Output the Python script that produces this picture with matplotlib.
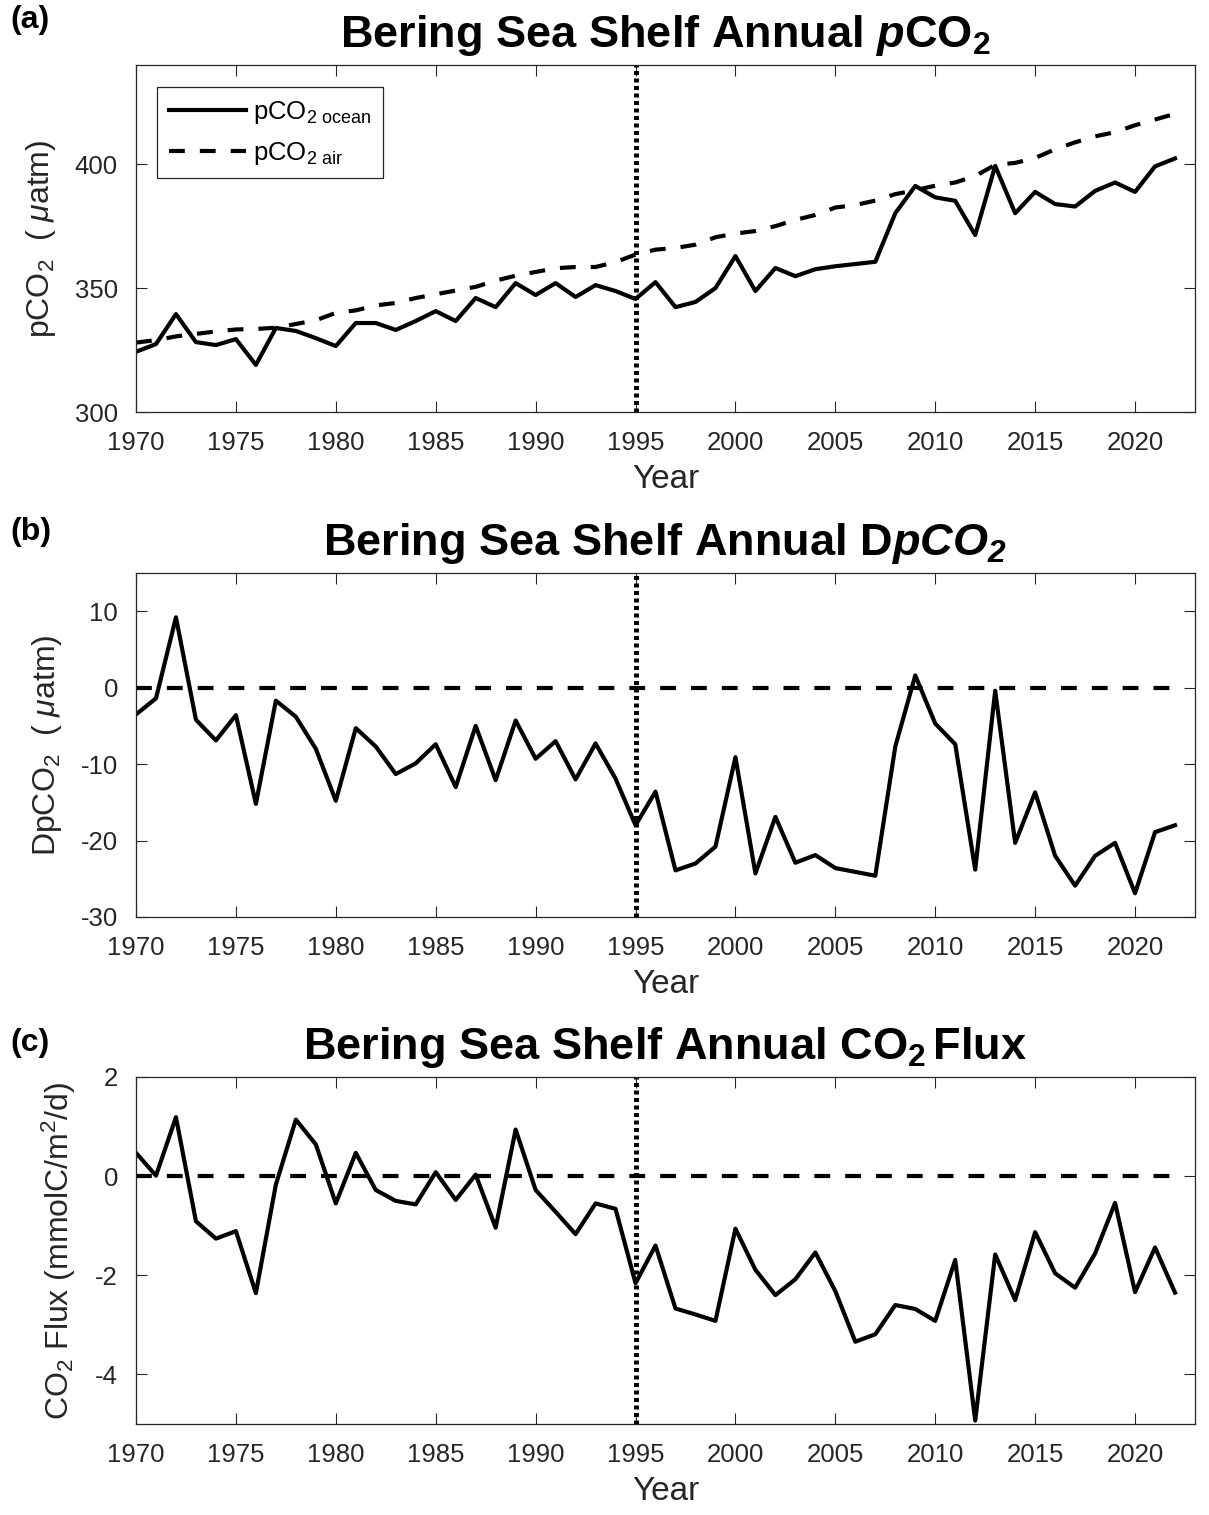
import numpy as np
import matplotlib.pyplot as plt

plt.rcParams['font.family'] = ['Liberation Sans', 'DejaVu Sans']
plt.rcParams['mathtext.fontset'] = 'custom'
plt.rcParams['mathtext.rm'] = 'Liberation Sans'
plt.rcParams['mathtext.it'] = 'Liberation Sans:italic'
plt.rcParams['mathtext.bf'] = 'Liberation Sans:bold'
plt.rcParams['mathtext.bfit'] = 'Liberation Sans:italic:bold'
plt.rcParams['axes.unicode_minus'] = False

years = np.arange(1970, 2023)

# ocean pCO2 (uatm)
pco2_ocean = [324.3, 327.4, 339.5, 328.2, 327.0, 329.4, 319.0, 333.9, 332.7, 329.8,
              326.6, 335.9, 335.9, 333.1, 336.7, 340.7, 336.7, 346.0, 342.3, 352.0,
              347.2, 352.0, 346.4, 351.2, 348.8, 345.6, 352.4, 342.3, 344.4, 350.0,
              362.9, 348.8, 358.1, 354.8, 357.6, 358.8, 359.7, 360.6, 380.2, 391.2,
              386.6, 385.2, 371.4, 399.3, 380.2, 388.8, 383.9, 382.9, 389.2, 392.6,
              388.8, 399.1, 402.3]

# atmospheric pCO2 (uatm), dashed line in panel (a)
pco2_air = [328.0, 329.0, 330.5, 331.5, 332.5, 333.3, 333.5, 334.0, 335.5, 337.0,
            340.0, 341.0, 343.0, 344.0, 346.0, 347.5, 349.0, 350.5, 353.0, 355.0,
            356.5, 358.0, 358.5, 358.5, 360.5, 363.5, 365.5, 366.2, 367.5, 370.5,
            372.0, 373.0, 375.0, 377.5, 379.5, 382.5, 383.5, 385.3, 387.9, 389.5,
            391.3, 392.6, 395.2, 399.7, 400.5, 402.5, 406.0, 408.8, 411.2, 412.9,
            415.7, 418.0, 420.3]

# delta pCO2 (uatm), panel (b)
dpco2 = [-3.5, -1.4, 9.2, -4.2, -6.9, -3.6, -15.2, -1.7, -3.8, -8.0,
         -14.8, -5.3, -7.7, -11.3, -9.9, -7.4, -13.0, -5.0, -12.1, -4.3,
         -9.3, -7.0, -12.0, -7.3, -11.9, -18.0, -13.6, -23.9, -23.0, -20.8,
         -9.1, -24.3, -16.9, -22.9, -21.9, -23.6, -24.1, -24.6, -7.7, 1.6,
         -4.7, -7.4, -23.8, -0.4, -20.3, -13.7, -22.0, -25.9, -22.0, -20.3,
         -26.9, -18.9, -18.0]

# air-sea CO2 flux (mmolC/m2/d), panel (c)
co2_flux = [0.47, 0.01, 1.19, -0.91, -1.26, -1.11, -2.36, -0.17, 1.14, 0.64,
            -0.55, 0.47, -0.28, -0.50, -0.57, 0.08, -0.48, 0.03, -1.04, 0.94,
            -0.28, -0.72, -1.17, -0.55, -0.66, -2.16, -1.40, -2.67, -2.79, -2.92,
            -1.06, -1.89, -2.40, -2.08, -1.54, -2.32, -3.34, -3.19, -2.60, -2.68,
            -2.92, -1.69, -4.93, -1.58, -2.50, -1.13, -1.96, -2.25, -1.56, -0.54,
            -2.34, -1.44, -2.35]

regime_year = 1995
xticks = np.arange(1970, 2021, 5)

W, H = 1209, 1515
fig = plt.figure(figsize=(W / 100, H / 100), dpi=100)

def px_axes(left, top, right, bottom):
    return fig.add_axes([left / W, 1 - bottom / H, (right - left) / W, (bottom - top) / H])

axc = '#262626'
lw = 3.0
dash = (3.8, 3.6)

def style(ax, ylim, yticks):
    ax.set_xlim(1970, 2023)
    ax.set_ylim(*ylim)
    ax.set_xticks(xticks)
    ax.set_yticks(yticks)
    ax.tick_params(direction='in', length=8, width=0.8, top=True, right=True,
                   labelsize=18.5, colors=axc, labelcolor='#262626')
    ax.tick_params(axis='x', pad=13.5)
    ax.tick_params(axis='y', pad=13)
    for s in ax.spines.values():
        s.set_color(axc)
        s.set_linewidth(0.9)
    ax.set_xlabel('Year', fontsize=24, color='#262626', labelpad=7)
    ax.axvline(regime_year, color='k', lw=3.6, linestyle=(0, (0.8, 0.7)),
               solid_capstyle='butt', dash_capstyle='butt')

# (a)
ax1 = px_axes(136, 65, 1195, 412)
ax1.plot(years, pco2_ocean, color='k', lw=lw, label=r'pCO$_{\mathrm{2\ ocean}}$')
ax1.plot(years, pco2_air, color='k', lw=lw, dashes=dash, label=r'pCO$_{\mathrm{2\ air}}$')
style(ax1, (300, 440), [300, 350, 400])
ax1.set_ylabel(r'pCO$_{2}$  ( $\mu$atm)', fontsize=23, color='#262626', labelpad=12)
ax1.set_title(r'Bering Sea Shelf Annual $\mathbfit{p}\mathbf{CO}_{\mathbf{2}}$',
              fontsize=32.5, fontweight='bold', pad=13)
leg = ax1.legend(loc='upper left', bbox_to_anchor=(0.0198, 0.9366), borderaxespad=0,
                 fontsize=18.5, handlelength=3.0, handletextpad=0.3, fancybox=False,
                 edgecolor=axc, framealpha=1, labelspacing=0.55, borderpad=0.45)
leg.get_frame().set_linewidth(0.9)

# (b)
ax2 = px_axes(136, 573, 1195, 917)
ax2.plot(years, dpco2, color='k', lw=lw)
ax2.plot(years, np.zeros(len(years)), color='k', lw=lw, dashes=dash)
style(ax2, (-30, 15), [-30, -20, -10, 0, 10])
ax2.set_ylabel(r'DpCO$_{2}$  ( $\mu$atm)', fontsize=23, color='#262626', labelpad=12)
ax2.set_title(r'Bering Sea Shelf Annual D$\mathbfit{pCO}_{\mathbfit{2}}$',
              fontsize=32.5, fontweight='bold', pad=13)

# (c)
ax3 = px_axes(136, 1077, 1195, 1424)
ax3.plot(years, co2_flux, color='k', lw=lw)
ax3.plot(years, np.zeros(len(years)), color='k', lw=lw, dashes=dash)
style(ax3, (-5, 2), [-4, -2, 0, 2])
ax3.set_ylabel(r'CO$_2$ Flux (mmolC/m$^2$/d)', fontsize=23, color='#262626', labelpad=12)
ax3.set_title(r'Bering Sea Shelf Annual $\mathbf{CO}_{\mathbf{2}}\,$Flux',
              fontsize=32.5, fontweight='bold', pad=13)

for lab, top in [('(a)', 5), ('(b)', 517), ('(c)', 1028)]:
    fig.text(10 / W, 1 - top / H, lab, fontsize=23, fontweight='bold', va='top', ha='left')

fig.savefig('out.png', dpi=100)
